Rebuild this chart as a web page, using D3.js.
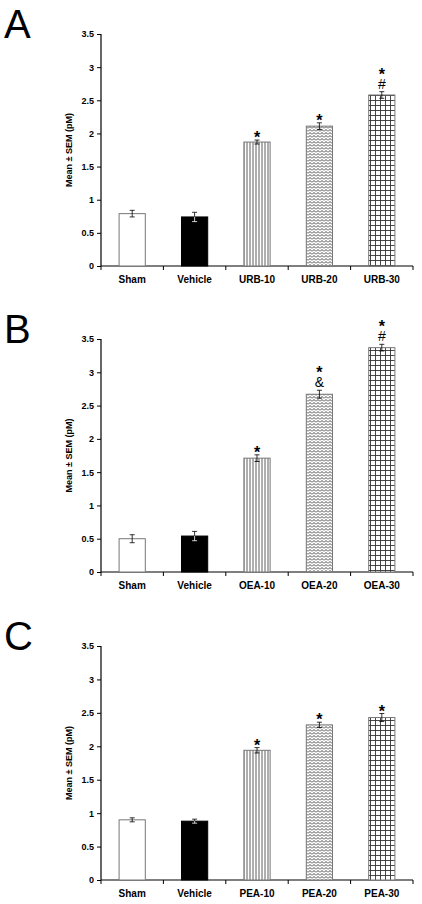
<!DOCTYPE html><html><head><script src="https://cdn.jsdelivr.net/npm/d3@7"></script>
<style>body{margin:0;background:#fff}</style></head><body><svg id="c" width="422" height="904"></svg>
<script>
const panels=["A","B","C"];
const catsA=["Sham","Vehicle","URB-10","URB-20","URB-30"];
const catsB=["Sham","Vehicle","OEA-10","OEA-20","OEA-30"];
const catsC=["Sham","Vehicle","PEA-10","PEA-20","PEA-30"];
const valsA=[0.79,0.74,1.87,2.11,2.58], errA=[0.05,0.07,0.03,0.05,0.05];
const valsB=[0.50,0.54,1.71,2.67,3.37], errB=[0.06,0.07,0.05,0.06,0.05];
const valsC=[0.90,0.88,1.94,2.32,2.43], errC=[0.03,0.03,0.04,0.04,0.06];
const sigA=["","","*","*","*\n#"], sigB=["","","*","*\n&","*\n#"], sigC=["","","*","*","*"];
const yTicks=[0,0.5,1,1.5,2,2.5,3,3.5];
const svg=d3.select("#c");
const defs=svg.append("defs");
const v=defs.append("pattern").attr("id","pv").attr("width",3).attr("height",4).attr("patternUnits","userSpaceOnUse");
v.append("rect").attr("width",3).attr("height",4).attr("fill","#fff");
v.append("line").attr("x1",1).attr("x2",1).attr("y1",0).attr("y2",4).attr("stroke","#333").attr("stroke-width",0.8);
const z=defs.append("pattern").attr("id","pz").attr("width",4).attr("height",3).attr("patternUnits","userSpaceOnUse");
z.append("rect").attr("width",4).attr("height",3).attr("fill","#fff");
z.append("path").attr("d","M0,2.5L2,0.5L4,2.5").attr("fill","none").attr("stroke","#333").attr("stroke-width",0.9);
const g=defs.append("pattern").attr("id","pg").attr("width",5).attr("height",5).attr("patternUnits","userSpaceOnUse");
g.append("rect").attr("width",5).attr("height",5).attr("fill","#fff");
g.append("path").attr("d","M0,0.5H5M0.5,0V5").attr("stroke","#333").attr("stroke-width",0.9);
const fills=["#fff","#000","url(#pv)","url(#pz)","url(#pg)"];
const data=[[catsA,valsA,errA,sigA,34,266],[catsB,valsB,errB,sigB,339,572],[catsC,valsC,errC,sigC,646,880]];
data.forEach(([cats,vals,errs,sigs,top,bot],pi)=>{
  const G=svg.append("g");
  const x=d3.scaleBand().domain(cats).range([101,413]).paddingInner(0.58).paddingOuter(0.29);
  const y=d3.scaleLinear().domain([0,3.5]).range([bot,top]);
  G.append("text").attr("x",4).attr("y",top+4).attr("font-family","Liberation Sans, Arial").attr("font-size",40).text(panels[pi]);
  const ya=G.append("g").attr("transform","translate(101,0)").call(d3.axisLeft(y).tickValues(yTicks).tickFormat(d3.format("")).tickSize(4));
  ya.select(".domain").attr("d",`M0,${top}V${bot}`);
  const xa=G.append("g").attr("transform",`translate(0,${bot})`).call(d3.axisBottom(x).tickSize(0).tickPadding(10));
  xa.select(".domain").attr("d","M101,0H413");
  const tk=d3.scalePoint().domain(d3.range(6)).range([101,413]);
  xa.selectAll(".xt").data(d3.range(6)).enter().append("line").attr("x1",d=>tk(d)).attr("x2",d=>tk(d)).attr("y1",0).attr("y2",4).attr("stroke","#000");
  G.selectAll(".tick text").attr("font-family","Liberation Sans, Arial").attr("font-size",9).attr("font-weight","bold");
  xa.selectAll(".tick text").attr("font-size",10);
  G.selectAll(".domain").attr("stroke","#000").attr("stroke-width",1.2);
  G.append("text").attr("transform",`translate(72,${(top+bot)/2}) rotate(-90)`).attr("text-anchor","middle")
   .attr("font-family","Liberation Sans, Arial").attr("font-size",9).attr("font-weight","bold").text("Mean ± SEM (pM)");
  cats.forEach((c,i)=>{
    G.append("rect").attr("x",x(c)).attr("width",x.bandwidth()).attr("y",y(vals[i])).attr("height",bot-y(vals[i]))
     .attr("fill",fills[i]).attr("stroke",i==1?"#000":"#777").attr("stroke-width",1);
    const cx=x(c)+x.bandwidth()/2, y1=y(vals[i]+errs[i]), y0=y(vals[i]-errs[i]);
    G.append("path").attr("d",`M${cx},${y0}V${y1}M${cx-2.5},${y1}H${cx+2.5}M${cx-2.5},${y0}H${cx+2.5}`).attr("stroke",i==1?"#fff":"#000").attr("stroke-width",0.8);
    if(i==1) G.append("path").attr("d",`M${cx},${y(vals[i])}V${y1}M${cx-2.5},${y1}H${cx+2.5}`).attr("stroke","#000").attr("stroke-width",0.8);
    const lines=sigs[i]?sigs[i].split("\n"):[];
    lines.reverse().forEach((s,k)=>{
      G.append("text").attr("x",cx).attr("y",y1-3-k*15+(s=="*"?6:0)).attr("text-anchor","middle")
       .attr("font-family","Liberation Sans, Arial").attr("font-size",s=="*"?16:14).attr("font-weight",s=="*"?"bold":"normal").text(s);
    });
  });
});
</script></body></html>
